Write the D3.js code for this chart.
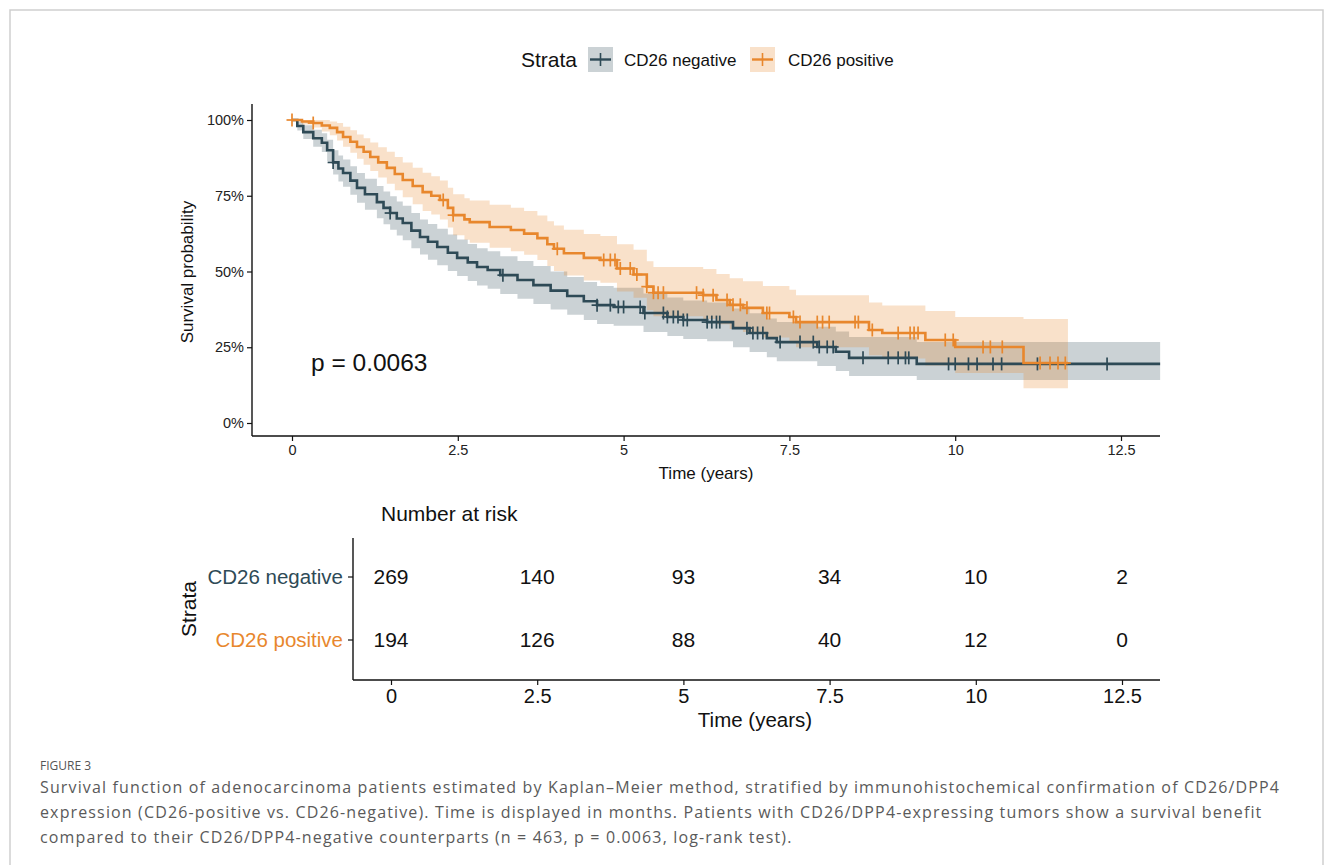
<!DOCTYPE html>
<html lang="en">
<head>
<meta charset="UTF-8">
<title>Kaplan-Meier CD26</title>
<script src="https://d3js.org/d3.v7.min.js"></script>
<style>
  body { margin: 0; background: #fff; }
  svg text { font-family: "Liberation Sans", Arial, sans-serif; }
  .cap { font-family: "Open Sans", "Noto Sans", sans-serif; }
</style>
</head>
<body>
<svg width="1333" height="865"></svg>
<script>
// ---- data ----
const strata = ["CD26 negative", "CD26 positive"];
const colors = ["#2E4A56", "#E8872D"];

// step points: time (years), survival, lower CI, upper CI
const negTime = [0, 0.08, 0.17, 0.32, 0.45, 0.53, 0.62, 0.7, 0.77, 0.88, 0.98, 1.1, 1.28, 1.38, 1.48, 1.58, 1.67, 1.8, 1.93, 2.05, 2.19, 2.35, 2.49, 2.65, 2.79, 2.95, 3.14, 3.4, 3.64, 3.9, 4.15, 4.4, 4.6, 4.85, 5.3, 5.66, 5.9, 6.26, 6.65, 6.9, 7.16, 7.31, 7.92, 8.2, 8.4, 9.42, 13.09];
const negSurv = [1, .98, .96, .94, .925, .90, .86, .84, .825, .80, .776, .755, .729, .71, .693, .675, .66, .635, .614, .598, .581, .562, .545, .53, .515, .505, .488, .472, .455, .437, .419, .402, .389, .383, .363, .35, .34, .333, .313, .297, .28, .267, .251, .235, .215, .195, .195];
const negLow  = [1, .965, .937, .912, .894, .865, .82, .797, .78, .753, .727, .704, .676, .656, .638, .619, .603, .577, .556, .539, .521, .502, .485, .469, .454, .443, .426, .41, .393, .375, .357, .34, .327, .321, .30, .287, .277, .27, .25, .234, .217, .204, .188, .172, .155, .142, .142];
const negHigh = [1, .995, .983, .968, .956, .935, .90, .883, .87, .847, .825, .806, .782, .764, .748, .731, .717, .693, .672, .657, .641, .622, .606, .591, .577, .567, .55, .535, .518, .50, .482, .465, .452, .446, .427, .414, .404, .398, .378, .362, .345, .333, .318, .302, .284, .267, .267];

const posTime = [0, 0.15, 0.32, 0.45, 0.57, 0.68, 0.77, 0.88, 0.98, 1.08, 1.18, 1.3, 1.43, 1.55, 1.67, 1.82, 1.97, 2.1, 2.23, 2.35, 2.43, 2.6, 2.68, 2.98, 3.3, 3.5, 3.7, 3.85, 3.95, 4.1, 4.4, 4.65, 4.9, 5.15, 5.35, 5.45, 6.2, 6.4, 6.6, 6.8, 7.1, 7.5, 7.6, 8.7, 8.9, 9.55, 10.0, 11.03, 11.7];
const posSurv = [1, .995, .99, .982, .974, .96, .944, .928, .911, .895, .878, .86, .842, .822, .802, .782, .762, .75, .736, .71, .686, .672, .663, .647, .637, .625, .61, .59, .575, .56, .545, .538, .51, .49, .45, .43, .422, .406, .39, .38, .363, .35, .333, .307, .297, .274, .251, .198, .198];
const posLow  = [1, .985, .975, .962, .95, .932, .912, .892, .872, .852, .832, .81, .79, .768, .745, .722, .70, .688, .672, .645, .62, .605, .595, .578, .567, .555, .538, .518, .502, .487, .47, .463, .434, .413, .372, .352, .343, .326, .31, .30, .282, .268, .25, .224, .213, .19, .165, .115, .115];
const posHigh = [1, 1, 1, 1, .995, .99, .978, .966, .952, .94, .926, .91, .895, .878, .86, .842, .826, .814, .80, .776, .755, .742, .734, .72, .71, .70, .685, .666, .652, .638, .624, .617, .59, .572, .534, .515, .508, .492, .478, .468, .452, .44, .422, .398, .388, .37, .35, .343, .343];

// censoring times
const negCensor = [0.62, 1.48, 3.18, 4.6, 4.8, 4.92, 5.0, 5.25, 5.32, 5.6, 5.66, 5.75, 5.82, 5.9, 5.96, 6.26, 6.33, 6.4, 6.45, 6.86, 6.95, 7.02, 7.1, 7.36, 7.66, 7.86, 7.95, 8.07, 8.16, 8.61, 8.99, 9.14, 9.25, 9.3, 9.9, 10.0, 10.2, 10.33, 10.57, 10.7, 11.24, 12.29];
const posCensor = [0, 0.32, 2.28, 2.43, 4.0, 4.7, 4.8, 4.87, 4.95, 5.1, 5.2, 5.35, 5.45, 5.52, 5.6, 6.1, 6.2, 6.35, 6.56, 6.65, 6.76, 6.86, 7.16, 7.2, 7.56, 7.66, 7.92, 8.0, 8.1, 8.49, 8.54, 8.75, 9.14, 9.32, 9.38, 9.44, 9.85, 9.97, 10.42, 10.53, 10.71, 11.28, 11.43, 11.55, 11.66];

const xTicks = [0, 2.5, 5, 7.5, 10, 12.5];
const yTicks = [0, 0.25, 0.5, 0.75, 1];
const riskNeg = [269, 140, 93, 34, 10, 2];
const riskPos = [194, 126, 88, 40, 12, 0];

const captionLines = [
  "Survival function of adenocarcinoma patients estimated by Kaplan\u2013Meier method, stratified by immunohistochemical confirmation of CD26/DPP4",
  "expression (CD26-positive vs. CD26-negative). Time is displayed in months. Patients with CD26/DPP4-expressing tumors show a survival benefit",
  "compared to their CD26/DPP4-negative counterparts (n = 463, p = 0.0063, log-rank test)."
];

// ---- drawing ----
const svg = d3.select("svg");

// figure frame
svg.append("path")
    .attr("d", "M10,870 V10 H1323 V870")
    .attr("fill", "none")
    .attr("stroke", "#cfcfcf")
    .attr("stroke-width", 1.5);

const groups = [
  {time: negTime, surv: negSurv, lo: negLow, hi: negHigh, cens: negCensor, color: colors[0]},
  {time: posTime, surv: posSurv, lo: posLow, hi: posHigh, cens: posCensor, color: colors[1]}
];

// survival panel
const x = d3.scaleLinear().domain([0, 12.5]).range([292, 1121]);
const y = d3.scaleLinear().domain([0, 1]).range([423, 120]);
const panelLeft = 252, panelRight = 1160, panelBottom = 436, panelTop = 104;

const bands = svg.append("g");
const lines = svg.append("g");

groups.forEach(g => {
    const pts = g.time.map((t, i) => ({t, s: g.surv[i], lo: g.lo[i], hi: g.hi[i]}));
    const area = d3.area()
        .curve(d3.curveStepAfter)
        .x(d => x(d.t))
        .y0(d => y(d.lo))
        .y1(d => y(d.hi));
    bands.append("path")
        .datum(pts)
        .attr("d", area)
        .attr("fill", g.color)
        .attr("fill-opacity", 0.25);

    const line = d3.line()
        .curve(d3.curveStepAfter)
        .x(d => x(d.t))
        .y(d => y(d.s));
    lines.append("path")
        .datum(pts)
        .attr("d", line)
        .attr("fill", "none")
        .attr("stroke", g.color)
        .attr("stroke-width", 2.6);

    // censor marks: survival value at the censoring time
    const sAt = t => {
        const i = d3.bisectRight(g.time, t) - 1;
        return g.surv[Math.max(0, i)];
    };
    const cg = lines.append("g").attr("stroke", g.color).attr("stroke-width", 1.7);
    g.cens.forEach(t => {
        const cx = x(t), cy = y(sAt(t));
        cg.append("line").attr("x1", cx).attr("x2", cx).attr("y1", cy - 6.5).attr("y2", cy + 6.5);
        cg.append("line").attr("x1", cx - 5.5).attr("x2", cx + 5.5).attr("y1", cy).attr("y2", cy);
    });
});

// axes for survival panel
const axisColor = "#111";
svg.append("line").attr("x1", panelLeft).attr("x2", panelLeft)
    .attr("y1", panelTop).attr("y2", panelBottom)
    .attr("stroke", axisColor).attr("stroke-width", 1.4);
svg.append("line").attr("x1", panelLeft).attr("x2", panelRight)
    .attr("y1", panelBottom).attr("y2", panelBottom)
    .attr("stroke", axisColor).attr("stroke-width", 1.4);

const yAxis = svg.append("g")
    .attr("transform", `translate(${panelLeft},0)`)
    .call(d3.axisLeft(y).tickValues(yTicks).tickFormat(d3.format(".0%")).tickSize(5).tickPadding(3));
yAxis.select(".domain").remove();
yAxis.selectAll("text").attr("font-size", 14.5).attr("fill", "#222");
yAxis.selectAll("line").attr("stroke", axisColor).attr("stroke-width", 1.2);

const xAxis = svg.append("g")
    .attr("transform", `translate(0,${panelBottom})`)
    .call(d3.axisBottom(x).tickValues(xTicks).tickFormat(d3.format("")).tickSize(5).tickPadding(4));
xAxis.select(".domain").remove();
xAxis.selectAll("text").attr("font-size", 14.5).attr("fill", "#222");
xAxis.selectAll("line").attr("stroke", axisColor).attr("stroke-width", 1.2);

svg.append("text")
    .attr("x", 706).attr("y", 479)
    .attr("text-anchor", "middle")
    .attr("font-size", 17)
    .attr("fill", "#111")
    .text("Time (years)");

svg.append("text")
    .attr("transform", "translate(193,272) rotate(-90)")
    .attr("text-anchor", "middle")
    .attr("font-size", 17)
    .attr("fill", "#111")
    .text("Survival probability");

svg.append("text")
    .attr("x", 311).attr("y", 371)
    .attr("font-size", 24.5)
    .attr("fill", "#111")
    .text("p = 0.0063");

// legend
const legend = svg.append("g");
legend.append("text")
    .attr("x", 521).attr("y", 67)
    .attr("font-size", 21)
    .attr("fill", "#111")
    .text("Strata");
const keyX = [588, 750];
const labelX = [624, 788];
strata.forEach((s, i) => {
    legend.append("rect")
        .attr("x", keyX[i]).attr("y", 47)
        .attr("width", 25).attr("height", 25)
        .attr("fill", colors[i]).attr("fill-opacity", 0.25);
    legend.append("line")
        .attr("x1", keyX[i] + 2).attr("x2", keyX[i] + 23)
        .attr("y1", 59.5).attr("y2", 59.5)
        .attr("stroke", colors[i]).attr("stroke-width", 2.4);
    legend.append("line")
        .attr("x1", keyX[i] + 12.5).attr("x2", keyX[i] + 12.5)
        .attr("y1", 53).attr("y2", 66)
        .attr("stroke", colors[i]).attr("stroke-width", 1.6);
    legend.append("text")
        .attr("x", labelX[i]).attr("y", 65.5)
        .attr("font-size", 17)
        .attr("fill", "#111")
        .text(s);
});

// risk table
const xr = d3.scaleLinear().domain([0, 12.5]).range([391, 1122]);
const tLeft = 353, tRight = 1160, tTop = 538, tBottom = 680;
const rowY = [577, 640];

svg.append("text")
    .attr("x", 381).attr("y", 521)
    .attr("font-size", 21)
    .attr("fill", "#111")
    .text("Number at risk");

svg.append("line").attr("x1", tLeft).attr("x2", tLeft)
    .attr("y1", tTop).attr("y2", tBottom)
    .attr("stroke", axisColor).attr("stroke-width", 1.4);
svg.append("line").attr("x1", tLeft).attr("x2", tRight)
    .attr("y1", tBottom).attr("y2", tBottom)
    .attr("stroke", axisColor).attr("stroke-width", 1.4);

const xrAxis = svg.append("g")
    .attr("transform", `translate(0,${tBottom})`)
    .call(d3.axisBottom(xr).tickValues(xTicks).tickFormat(d3.format("")).tickSize(5).tickPadding(4));
xrAxis.select(".domain").remove();
xrAxis.selectAll("text").attr("font-size", 20).attr("fill", "#111");
xrAxis.selectAll("line").attr("stroke", axisColor).attr("stroke-width", 1.2);

svg.append("text")
    .attr("x", 755).attr("y", 727)
    .attr("text-anchor", "middle")
    .attr("font-size", 20.5)
    .attr("fill", "#111")
    .text("Time (years)");

svg.append("text")
    .attr("transform", "translate(196,609) rotate(-90)")
    .attr("text-anchor", "middle")
    .attr("font-size", 21)
    .attr("fill", "#111")
    .text("Strata");

[riskNeg, riskPos].forEach((row, r) => {
    svg.append("text")
        .attr("x", tLeft - 10).attr("y", rowY[r])
        .attr("dy", "0.35em")
        .attr("text-anchor", "end")
        .attr("font-size", 20.5)
        .attr("fill", colors[r])
        .text(strata[r]);
    svg.append("line")
        .attr("x1", tLeft - 5).attr("x2", tLeft)
        .attr("y1", rowY[r]).attr("y2", rowY[r])
        .attr("stroke", axisColor).attr("stroke-width", 1.2);
    svg.append("g").selectAll("text")
        .data(row)
        .join("text")
        .attr("x", (d, i) => xr(xTicks[i]))
        .attr("y", rowY[r])
        .attr("dy", "0.35em")
        .attr("text-anchor", "middle")
        .attr("font-size", 21)
        .attr("fill", "#111")
        .text(d => d);
});

// caption
svg.append("text")
    .attr("class", "cap")
    .attr("x", 40).attr("y", 770)
    .attr("font-size", 12)
    .attr("fill", "#555")
    .text("FIGURE 3");
const capSize = 16;
const capText = svg.selectAll("text.capline")
    .data(captionLines)
    .join("text")
    .attr("class", "cap capline")
    .attr("x", 40)
    .attr("y", (d, i) => 793 + i * 25)
    .attr("font-size", capSize)
    .attr("fill", "#5a5a5a")
    .text(d => d);
// spread the letters so the first line spans the width seen in the figure
const first = capText.node();
const spacing = (1240 - first.getComputedTextLength()) / captionLines[0].length;
capText.attr("letter-spacing", spacing.toFixed(3));
</script>
</body>
</html>
